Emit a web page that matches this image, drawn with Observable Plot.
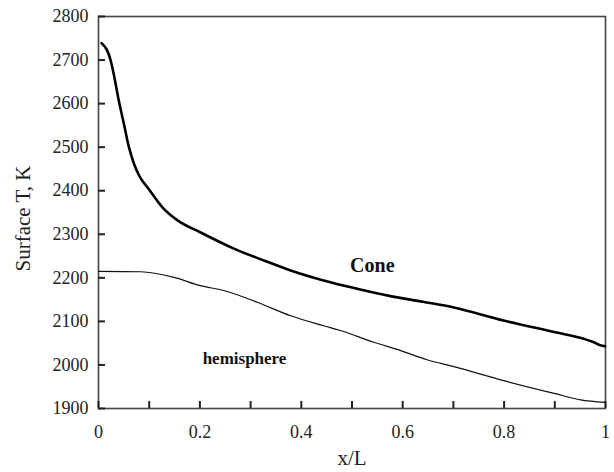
<!DOCTYPE html>
<html>
<head>
<meta charset="utf-8">
<script src="https://cdn.jsdelivr.net/npm/d3@7"></script>
<script src="https://cdn.jsdelivr.net/npm/@observablehq/plot@0.6"></script>
<style>
  html, body { margin: 0; padding: 0; background: #fff; }
  #chart svg { display: block; }
  #chart svg text { font-family: 'Liberation Serif', 'Times New Roman', serif; }
</style>
</head>
<body>
<div id="chart"></div>
<script>
// ---- data ----
const coneX = [0.006, 0.024, 0.030, 0.040, 0.050, 0.060, 0.070, 0.080, 0.099, 0.126, 0.156, 0.200, 0.267, 0.326, 0.379, 0.444, 0.510, 0.576, 0.640, 0.701, 0.799, 0.901, 0.957, 0.977, 0.990, 0.999];
const coneT = [2739, 2699, 2668, 2607, 2554, 2500, 2462, 2435, 2404, 2362, 2332, 2305, 2267, 2240, 2217, 2194, 2175, 2158, 2145, 2132, 2102, 2075, 2060, 2052, 2045, 2043];

const hemiX = [0.000, 0.083, 0.149, 0.201, 0.247, 0.313, 0.379, 0.444, 0.477, 0.543, 0.596, 0.648, 0.701, 0.799, 0.901, 0.951, 0.999];
const hemiT = [2215, 2214, 2201, 2182, 2171, 2144, 2113, 2090, 2079, 2052, 2033, 2012, 1996, 1964, 1934, 1920, 1914];

const xDomain = [0, 1];
const yDomain = [1900, 2800];
const xTickValues = [0, 0.1, 0.2, 0.3, 0.4, 0.5, 0.6, 0.7, 0.8, 0.9, 1];
const xTickLabels = [0, 0.2, 0.4, 0.6, 0.8, 1];
const yTickValues = [1900, 2000, 2100, 2200, 2300, 2400, 2500, 2600, 2700, 2800];

const annotText = ["Cone", "hemisphere"];
const annotX = [0.540, 0.288];
const annotT = [2228, 2015];

const xLabel = "x/L";
const yLabel = "Surface T, K";

// ---- build ----
const cone = coneX.map((x, i) => ({x, t: coneT[i]}));
const hemi = hemiX.map((x, i) => ({x, t: hemiT[i]}));
const annots = annotText.map((s, i) => ({s, x: annotX[i], t: annotT[i]}));

const W = 614, H = 472, mT = 16, mR = 9, mB = 64, mL = 98;
const tickLen = 7;
const frameW = W - mL - mR, frameH = H - mT - mB;
const axisColor = "#444";
const tickColor = "#222";
const textColor = "#222";
const font = "'Liberation Serif', 'Times New Roman', serif";

const chart = Plot.plot({
  width: W,
  height: H,
  marginTop: mT,
  marginRight: mR,
  marginBottom: mB,
  marginLeft: mL,
  style: { fontFamily: font, background: "#fff", color: textColor },
  x: { domain: xDomain },
  y: { domain: yDomain },
  marks: [
    Plot.frame({ stroke: axisColor, strokeWidth: 1.6 }),
    // tick labels
    Plot.axisX(xTickLabels, {
      anchor: "bottom", tickSize: 0, tickPadding: 17,
      tickFormat: d => String(d), fontSize: 18, fontFamily: font, fill: textColor, label: null
    }),
    Plot.axisY(yTickValues, {
      anchor: "left", tickSize: 0, tickPadding: 10,
      tickFormat: d => String(d), fontSize: 18, fontFamily: font, fill: textColor, label: null
    }),
    // axis titles
    Plot.text([xLabel], { text: d => d, frameAnchor: "bottom", dy: 50, lineAnchor: "middle", textAnchor: "middle", fontSize: 21, fontFamily: font, fill: textColor }),
    Plot.text([yLabel], { text: d => d, frameAnchor: "left", dx: -75, dy: 6, rotate: -90, lineAnchor: "middle", textAnchor: "middle", fontSize: 21, fontFamily: font, fill: textColor }),
    // inward tick marks
    Plot.ruleX(xTickValues, { x: d => d, y1: yDomain[0], y2: yDomain[0] + (yDomain[1] - yDomain[0]) * tickLen / frameH, stroke: tickColor, strokeWidth: 2 }),
    Plot.ruleY(yTickValues, { y: d => d, x1: xDomain[0], x2: xDomain[0] + (xDomain[1] - xDomain[0]) * tickLen / frameW, stroke: tickColor, strokeWidth: 2 }),
    Plot.line(hemi, { x: "x", y: "t", stroke: "#111", strokeWidth: 1.2, curve: "monotone-x" }),
    Plot.line(cone, { x: "x", y: "t", stroke: "#000", strokeWidth: 2.6, curve: "monotone-x" }),
    Plot.text(annots.slice(0, 1), { x: "x", y: "t", text: "s", fontSize: 20, fontWeight: "bold", fontFamily: font, fill: "#111", textAnchor: "middle", lineAnchor: "middle" }),
    Plot.text(annots.slice(1), { x: "x", y: "t", text: "s", fontSize: 17, fontWeight: "bold", fontFamily: font, fill: "#111", textAnchor: "middle", lineAnchor: "middle" })
  ]
});
document.getElementById("chart").appendChild(chart);
</script>
</body>
</html>
